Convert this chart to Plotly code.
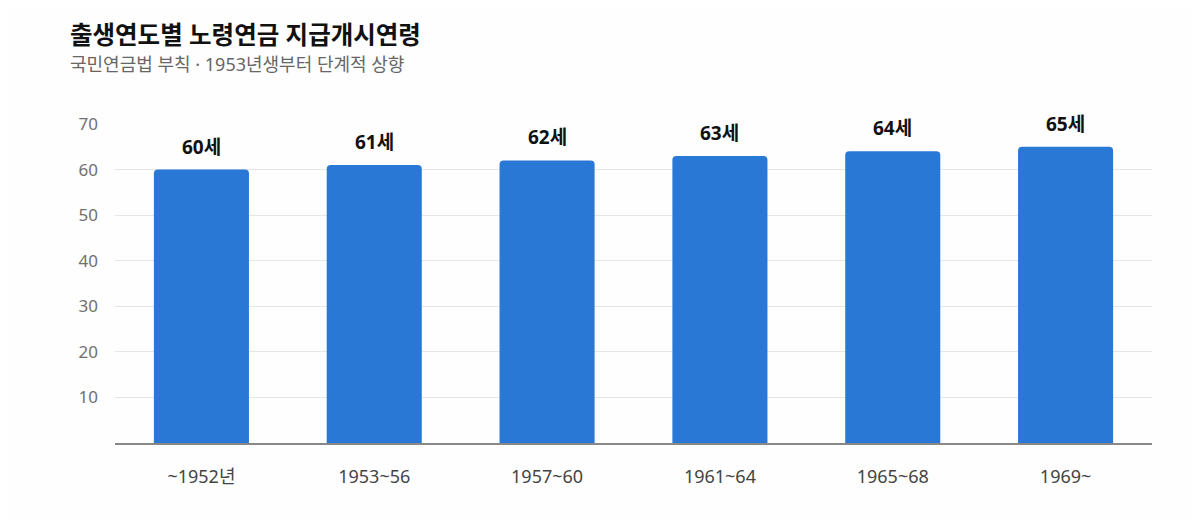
import plotly.graph_objects as go

cohorts = ["~1952년", "1953~56", "1957~60", "1961~64", "1965~68", "1969~"]
pension_age = [60, 61, 62, 63, 64, 65]
value_labels = ["60세", "61세", "62세", "63세", "64세", "65세"]

FONT = "Noto Sans, Noto Sans CJK KR"

fig = go.Figure()
fig.add_trace(
    go.Bar(
        x=cohorts,
        y=pension_age,
        marker=dict(color="#2a78d6", line=dict(width=0)),
        width=0.55,
        hoverinfo="skip",
    )
)

# value labels above bars
for c, v, t in zip(cohorts, pension_age, value_labels):
    fig.add_annotation(
        x=c, y=v, text="<b>%s</b>" % t, showarrow=False,
        yanchor="bottom", yshift=8,
        font=dict(family=FONT, size=19, color="#111111"),
    )

# title + subtitle as paper annotations
fig.add_annotation(
    text="<b>출생연도별 노령연금 지급개시연령</b>",
    xref="paper", yref="paper", x=-0.045, y=1.281,
    xanchor="left", yanchor="middle", showarrow=False,
    font=dict(family=FONT, size=24.5, color="#111111"),
)
fig.add_annotation(
    text="국민연금법 부칙 · 1953년생부터 단계적 상향",
    xref="paper", yref="paper", x=-0.045, y=1.188,
    xanchor="left", yanchor="middle", showarrow=False,
    font=dict(family=FONT, size=18, color="#666666"),
)

fig.update_layout(
    width=1184,
    height=512,
    paper_bgcolor="#fefefe",
    plot_bgcolor="#fefefe",
    margin=dict(l=107, r=40, t=116, b=77),
    barcornerradius=4,
    showlegend=False,
    font=dict(family=FONT),
)

fig.update_yaxes(
    range=[0, 70],
    tickvals=[10, 20, 30, 40, 50, 60, 70],
    tickfont=dict(family=FONT, size=17, color="#707070"),
    gridcolor="#e6e6e2",
    zeroline=False,
    showline=False,
    ticks="",
    ticklabelstandoff=16,
)
fig.update_xaxes(
    tickfont=dict(family=FONT, size=18, color="#444444"),
    showline=True,
    linecolor="#888888",
    linewidth=2,
    ticks="",
    ticklabelstandoff=16,
)

fig.write_html("out.html")
